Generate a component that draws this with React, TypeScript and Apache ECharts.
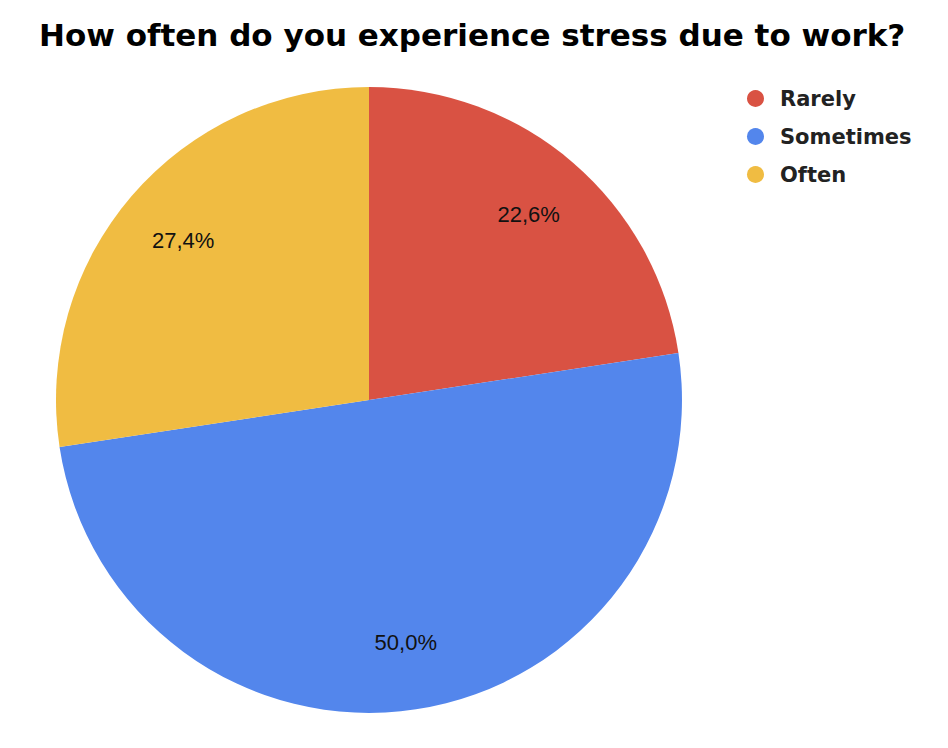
import React, { useEffect, useRef } from "react";
import * as echarts from "echarts";

const categories = ["Rarely", "Sometimes", "Often"];
const values = [22.6, 50.0, 27.4];
const colors = ["#D95243", "#5386EC", "#F0BC42"];
const titleText = "How often do you experience stress due to work?";

export default function App() {
  const ref = useRef<HTMLDivElement>(null);
  useEffect(() => {
    if (!ref.current) return;
    const chart = echarts.init(ref.current, null, { renderer: "svg" });
    const data = categories.map((name, i) => ({ name, value: values[i] }));
    const fmt = (p: any) => p.value.toFixed(1).replace(".", ",") + "%";
    chart.setOption({
      animation: false,
      color: colors,
      title: {
        text: titleText,
        left: 34,
        top: 14,
        textStyle: {
          fontFamily: "DejaVu Sans",
          fontWeight: "bold",
          fontSize: 31,
          color: "#000",
        },
      },
      legend: {
        orient: "vertical",
        left: 742,
        top: 83,
        icon: "circle",
        itemWidth: 17,
        itemHeight: 17,
        itemGap: 17,
        data: categories,
        textStyle: {
          fontFamily: "DejaVu Sans",
          fontWeight: "bold",
          fontSize: 21,
          color: "#222",
          padding: [0, 0, 0, 11],
        },
      },
      series: [
        {
          type: "pie",
          center: [369, 400],
          radius: [0, 313],
          startAngle: 90,
          clockwise: true,
          label: { show: false },
          labelLine: { show: false },
          emphasis: { disabled: true },
          data,
        },
        {
          type: "pie",
          center: [369, 400],
          radius: [0, 484],
          startAngle: 90,
          clockwise: true,
          silent: true,
          itemStyle: { color: "rgba(0,0,0,0)" },
          label: {
            show: true,
            position: "inside",
            formatter: fmt,
            fontFamily: "Liberation Sans",
            fontSize: 22,
            color: "#111",
          },
          labelLine: { show: false },
          emphasis: { disabled: true },
          data,
        },
      ],
    });
    return () => chart.dispose();
  }, []);
  return (
    <div
      ref={ref}
      style={{ position: "fixed", left: 0, top: 0, width: 948, height: 748, background: "#fff" }}
    />
  );
}
